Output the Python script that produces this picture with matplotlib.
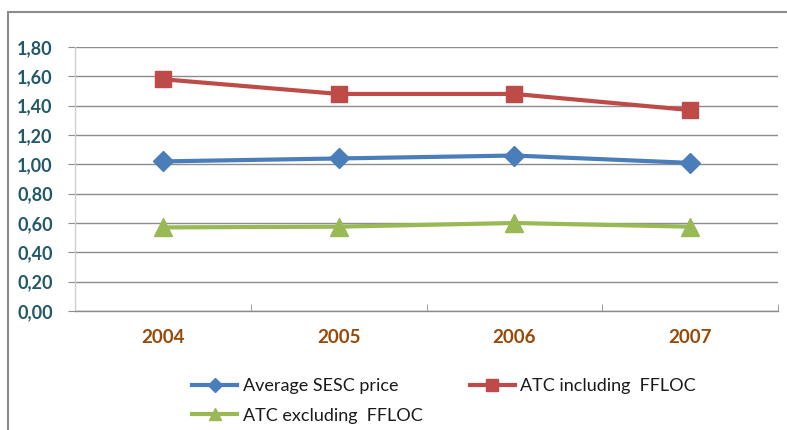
import matplotlib
matplotlib.use('Agg')
from matplotlib import pyplot as plt
from matplotlib.patches import Rectangle

years = ['2004', '2005', '2006', '2007']
sescPrice = [1.02, 1.04, 1.06, 1.01]
atcIncl = [1.58, 1.48, 1.48, 1.37]
atcExcl = [0.57, 0.575, 0.60, 0.575]
yTicks = [0.0, 0.2, 0.4, 0.6, 0.8, 1.0, 1.2, 1.4, 1.6, 1.8]

W, H = 787, 430
fig = plt.figure(figsize=(W / 100, H / 100), dpi=100)
plt.rcParams['font.family'] = ['Lato', 'DejaVu Sans']

# chart frame (extends beyond the image on right and bottom)
fig.patches.append(Rectangle((8 / W, -0.1), 1.2, 1 - 12 / H + 0.1, transform=fig.transFigure,
                             fill=False, edgecolor='#8c8c8c', linewidth=1.5))

ax = fig.add_axes([75 / W, 1 - 311 / H, (778 - 75) / W, (311 - 47) / H])
x = range(len(years))
l1, = ax.plot(x, sescPrice, color='#4A7EBB', linewidth=3, marker='D', markersize=10, label='Average SESC price')
l2, = ax.plot(x, atcIncl, color='#BE4B48', linewidth=3, marker='s', markersize=12, label='ATC including  FFLOC')
l3, = ax.plot(x, atcExcl, color='#98B954', linewidth=3, marker='^', markersize=13, label='ATC excluding  FFLOC')

ax.set_xlim(-0.5, 3.5)
ax.set_ylim(0, 1.8)
ax.set_yticks(yTicks)
ax.set_yticklabels([('%.2f' % v).replace('.', ',') for v in yTicks])
ax.set_xticks(x)
ax.set_xticklabels(years)
ax.set_xticks([0.5, 1.5, 2.5, 3.5], minor=True)
ax.yaxis.grid(True, color='#8c8c8c', linewidth=1)
ax.set_axisbelow(True)

for s in ['top', 'right']:
    ax.spines[s].set_visible(False)
ax.spines['left'].set_color('#d0d0d0')
ax.spines['left'].set_linewidth(1)
ax.spines['bottom'].set_color('#8c8c8c')
ax.spines['bottom'].set_linewidth(1)

ax.tick_params(axis='y', length=5, color='#8c8c8c', labelsize=13, pad=11, labelcolor='#215967')
ax.tick_params(axis='x', which='major', length=0, pad=13, labelsize=13.5, labelcolor='#984807')
ax.tick_params(axis='x', which='minor', length=5, color='#8c8c8c', direction='in')
for lab in ax.get_yticklabels() + ax.get_xticklabels():
    lab.set_fontweight('bold')

# row-major order like the original: avg, incl / excl
leg = fig.legend([l1, l3, l2], [l1.get_label(), l3.get_label(), l2.get_label()],
                 loc='upper left', bbox_to_anchor=(176 / W, 1 - 362 / H), ncol=2, frameon=False,
                 fontsize=13, handlelength=2.5, handletextpad=0.3, columnspacing=2.6,
                 labelspacing=0.75, markerscale=0.7)
for t in leg.get_texts():
    t.set_color('#1a1a1a')

fig.savefig('out.png', dpi=100)
plt.close()
